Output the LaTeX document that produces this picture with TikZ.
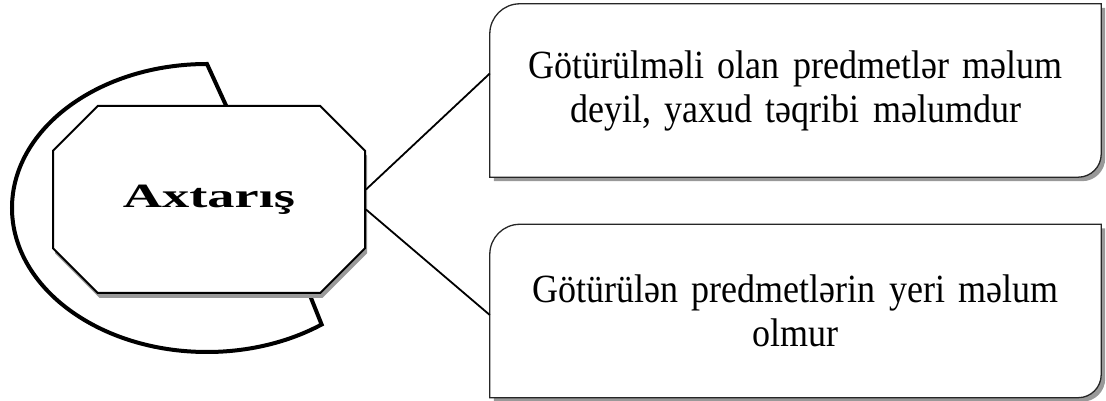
\documentclass[tikz,border=0pt]{standalone}
\usepackage{fontspec}
\setmainfont{Liberation Serif}[FakeStretch=0.9, WordSpace=0.8]
\newfontfamily\widefont{Liberation Serif}[FakeStretch=1.6]
\usetikzlibrary{shapes.misc,shadows,backgrounds}
\definecolor{shadowgray}{gray}{0.6}

\begin{document}
\begin{tikzpicture}[
    x=1pt, y=1pt,
    octbox/.style={chamfered rectangle, chamfered rectangle xsep=33pt, chamfered rectangle ysep=30pt, draw, line width=2pt, fill=white, minimum width=312pt, minimum height=187pt, inner sep=0pt, general shadow={fill=shadowgray, shadow xshift=2pt, shadow yshift=-5pt}},
    textbox/.style={rectangle, minimum width=611pt, minimum height=173pt, inner sep=0pt, text width=600pt, align=center, font=\fontsize{40}{44}\selectfont},
    boxframe/.style={draw=black!85, line width=1.3pt, fill=white, preaction={draw=none, fill=shadowgray, transform canvas={shift={(4pt,-4pt)}}}},
    loopline/.style={line width=4pt},
    link/.style={line width=1.8pt}
]
\useasboundingbox (0,0) rectangle (1106,401);

% Loop behind the central node
\draw[loopline] (229,289) -- (207,337) arc[start angle=90, end angle=306, x radius=195pt, y radius=144pt] -- (307,113);

% Central node
\node[octbox] (axt) at (209,201.5) {\widefont\bfseries\fontsize{34}{38}\selectfont Axtarış};

% Text boxes
\node[textbox] (gotm) at (795.5,310.5) {Götürülməli olan predmetlər məlum\\deyil, yaxud təqribi məlumdur};
\node[textbox] (gotn) at (795.5,90) {Götürülən predmetlərin yeri məlum\\olmur};

% Box frames
\begin{scope}[on background layer]
\draw[boxframe] (gotm.south west) -- ([yshift=-30pt]gotm.north west) arc[start angle=180, end angle=90, radius=30pt] -- (gotm.north east) -- ([yshift=23pt]gotm.south east) arc[start angle=0, end angle=-90, radius=23pt] -- cycle;
\draw[boxframe] (gotn.south west) -- ([yshift=-30pt]gotn.north west) arc[start angle=180, end angle=90, radius=30pt] -- (gotn.north east) -- ([yshift=23pt]gotn.south east) arc[start angle=0, end angle=-90, radius=23pt] -- cycle;
\end{scope}

% Connectors
\draw[link] ([yshift=10pt]axt.east) -- ([yshift=17pt]gotm.west);
\draw[link] ([yshift=-10pt]axt.east) -- ([yshift=-4pt]gotn.west);

\end{tikzpicture}
\end{document}
